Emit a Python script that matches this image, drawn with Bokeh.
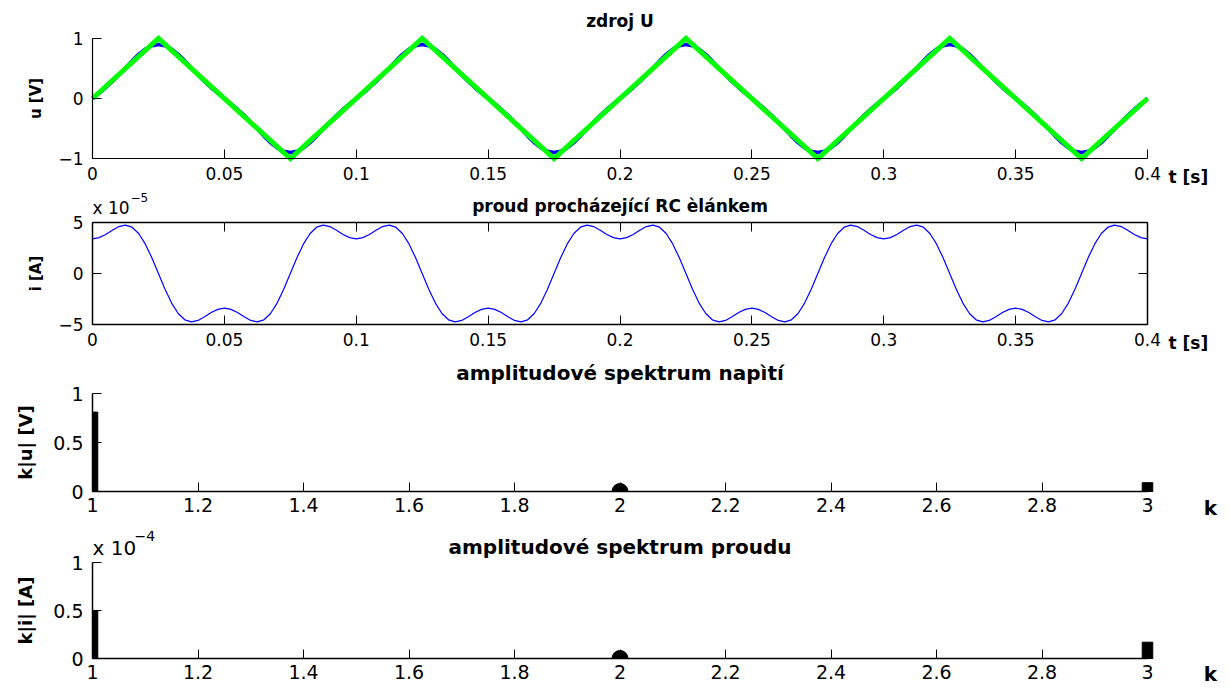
import math
from bokeh.plotting import figure
from bokeh.layouts import column
from bokeh.models import Range1d, FixedTicker, LinearAxis, Label
from bokeh.embed import file_html
from bokeh.resources import INLINE

# ---------------- data ----------------
t_samples = [round(0.0025 * n, 4) for n in range(161)]  # sampling grid 0 .. 0.4 s

# Fourier approximation of the source voltage (blue)
u_approx = [
    0, 0.086, 0.178, 0.279, 0.391, 0.509, 0.628, 0.736, 0.823, 0.880, 0.900, 0.880, 0.823, 0.736, 0.628, 0.509, 0.391, 0.279, 0.178, 0.086,
    0, -0.086, -0.178, -0.279, -0.391, -0.509, -0.628, -0.736, -0.823, -0.880, -0.900, -0.880, -0.823, -0.736, -0.628, -0.509, -0.391, -0.279, -0.178, -0.086,
    0, 0.086, 0.178, 0.279, 0.391, 0.509, 0.628, 0.736, 0.823, 0.880, 0.900, 0.880, 0.823, 0.736, 0.628, 0.509, 0.391, 0.279, 0.178, 0.086,
    0, -0.086, -0.178, -0.279, -0.391, -0.509, -0.628, -0.736, -0.823, -0.880, -0.900, -0.880, -0.823, -0.736, -0.628, -0.509, -0.391, -0.279, -0.178, -0.086,
    0, 0.086, 0.178, 0.279, 0.391, 0.509, 0.628, 0.736, 0.823, 0.880, 0.900, 0.880, 0.823, 0.736, 0.628, 0.509, 0.391, 0.279, 0.178, 0.086,
    0, -0.086, -0.178, -0.279, -0.391, -0.509, -0.628, -0.736, -0.823, -0.880, -0.900, -0.880, -0.823, -0.736, -0.628, -0.509, -0.391, -0.279, -0.178, -0.086,
    0, 0.086, 0.178, 0.279, 0.391, 0.509, 0.628, 0.736, 0.823, 0.880, 0.900, 0.880, 0.823, 0.736, 0.628, 0.509, 0.391, 0.279, 0.178, 0.086,
    0, -0.086, -0.178, -0.279, -0.391, -0.509, -0.628, -0.736, -0.823, -0.880, -0.900, -0.880, -0.823, -0.736, -0.628, -0.509, -0.391, -0.279, -0.178, -0.086,
    0,
]

# ideal triangle source (green)
t_triangle = [0, 0.025, 0.075, 0.125, 0.175, 0.225, 0.275, 0.325, 0.375, 0.4]
u_triangle = [0, 1, -1, 1, -1, 1, -1, 1, -1, 0]

# current through the RC network, in units of 1e-5 A
i_current_e5 = [
    3.40, 3.52, 3.83, 4.24, 4.60, 4.74, 4.54, 3.92, 2.90, 1.54, 0, -1.54, -2.90, -3.92, -4.54, -4.74, -4.60, -4.24, -3.83, -3.52,
    -3.40, -3.52, -3.83, -4.24, -4.60, -4.74, -4.54, -3.92, -2.90, -1.54, 0, 1.54, 2.90, 3.92, 4.54, 4.74, 4.60, 4.24, 3.83, 3.52,
    3.40, 3.52, 3.83, 4.24, 4.60, 4.74, 4.54, 3.92, 2.90, 1.54, 0, -1.54, -2.90, -3.92, -4.54, -4.74, -4.60, -4.24, -3.83, -3.52,
    -3.40, -3.52, -3.83, -4.24, -4.60, -4.74, -4.54, -3.92, -2.90, -1.54, 0, 1.54, 2.90, 3.92, 4.54, 4.74, 4.60, 4.24, 3.83, 3.52,
    3.40, 3.52, 3.83, 4.24, 4.60, 4.74, 4.54, 3.92, 2.90, 1.54, 0, -1.54, -2.90, -3.92, -4.54, -4.74, -4.60, -4.24, -3.83, -3.52,
    -3.40, -3.52, -3.83, -4.24, -4.60, -4.74, -4.54, -3.92, -2.90, -1.54, 0, 1.54, 2.90, 3.92, 4.54, 4.74, 4.60, 4.24, 3.83, 3.52,
    3.40, 3.52, 3.83, 4.24, 4.60, 4.74, 4.54, 3.92, 2.90, 1.54, 0, -1.54, -2.90, -3.92, -4.54, -4.74, -4.60, -4.24, -3.83, -3.52,
    -3.40, -3.52, -3.83, -4.24, -4.60, -4.74, -4.54, -3.92, -2.90, -1.54, 0, 1.54, 2.90, 3.92, 4.54, 4.74, 4.60, 4.24, 3.83, 3.52,
    3.40,
]

k_harm = [1, 2, 3]
u_spectrum = [0.81, 0.0, 0.09]          # V
i_spectrum = [5.0e-5, 0.0, 1.7e-5]      # A
i_spec_scale = 1e-4

t_ticks = [0, 0.05, 0.1, 0.15, 0.2, 0.25, 0.3, 0.35, 0.4]
t_tick_labels = ["0", "0.05", "0.1", "0.15", "0.2", "0.25", "0.3", "0.35", "0.4"]
k_ticks = [1, 1.2, 1.4, 1.6, 1.8, 2, 2.2, 2.4, 2.6, 2.8, 3]
k_tick_labels = ["1", "1.2", "1.4", "1.6", "1.8", "2", "2.2", "2.4", "2.6", "2.8", "3"]
u_ticks = [-1, 0, 1]
u_tick_labels = ["\u22121", "0", "1"]
i_ticks = [-5, 0, 5]
i_tick_labels = ["\u22125", "0", "5"]
spec_ticks = [0, 0.5, 1]
spec_tick_labels = ["0", "0.5", "1"]

titles = ["zdroj U", "proud procházející RC èlánkem",
          "amplitudové spektrum napìtí", "amplitudové spektrum proudu"]
ylabels = ["u [V]", "i [A]", "k|u| [V]", "k|i| [A]"]
xlabel_t = "t [s]"
xlabel_k = "k"

# ---------------- layout (pixels) ----------------
FONT = "DejaVu Sans"
W = 1221
AX_LEFT = 92       # pixel of the first x tick (y axis position)
AX_RIGHT = 1147    # pixel of the last x tick
BAR_HALF = 0.01    # half width of spectrum bars (k units)


def x_range_px(v0, v1):
    scale = (v1 - v0) / (AX_RIGHT - AX_LEFT)
    return Range1d(v0 - AX_LEFT * scale, v0 + (W - AX_LEFT) * scale)


def y_range_px(vlow, vhigh, px_high, px_low, height):
    # px_* measured from the top of the figure
    scale = (vhigh - vlow) / (px_low - px_high)
    return Range1d(vlow - (height - px_low) * scale, vhigh + px_high * scale)


def style_axis(ax, ticks, labels, fs, lw, standoff=8):
    ax.ticker = FixedTicker(ticks=ticks)
    ax.major_label_overrides = dict(zip(ticks, labels))
    ax.major_tick_in = 9
    ax.major_tick_out = 0
    ax.minor_tick_in = 0
    ax.minor_tick_out = 0
    ax.axis_line_color = "black"
    ax.axis_line_width = lw
    ax.major_tick_line_color = "black"
    ax.major_tick_line_width = 1
    ax.major_label_text_font = FONT
    ax.major_label_text_font_size = fs
    ax.major_label_text_color = "black"
    ax.major_label_standoff = standoff


def make_fig(h, xr, yr):
    p = figure(width=W, height=h, x_range=xr, y_range=yr, title=None,
               output_backend="svg", toolbar_location=None,
               min_border_left=0, min_border_right=0,
               min_border_top=0, min_border_bottom=0)
    p.xgrid.visible = False
    p.ygrid.visible = False
    p.outline_line_color = None
    p.background_fill_color = "white"
    p.border_fill_color = "white"
    return p


def place_axes(p, xt, xl, yt, yl, fs, lw, xstand=8):
    style_axis(p.xaxis[0], xt, xl, fs, lw, standoff=xstand)
    p.xaxis[0].fixed_location = yt[0]
    p.xaxis[0].bounds = (xt[0], xt[-1])
    style_axis(p.yaxis[0], yt, yl, fs, lw, standoff=9)
    p.yaxis[0].fixed_location = xt[0]
    p.yaxis[0].bounds = (yt[0], yt[-1])


def ylabel(ax, text, fs, standoff):
    ax.axis_label = text
    ax.axis_label_text_font = FONT
    ax.axis_label_text_font_style = "bold"
    ax.axis_label_text_font_size = fs
    ax.axis_label_text_color = "black"
    ax.axis_label_standoff = standoff


def text(p, x, y, s, fs, dx=0, dy=0, bold=False, align="left"):
    p.add_layout(Label(x=x, y=y, text=s, x_offset=dx, y_offset=dy,
                       text_align=align, text_baseline="middle", text_font=FONT,
                       text_font_style="bold" if bold else "normal",
                       text_font_size=fs, text_color="black"))


def spectrum(p, values):
    left = [max(k - BAR_HALF, k_ticks[0]) for k in k_harm]
    right = [k + BAR_HALF for k in k_harm]
    p.quad(left=left, right=right, bottom=[0] * len(k_harm), top=values,
           fill_color="black", line_color="black")
    zk = [k for k, v in zip(k_harm, values) if v == 0]
    p.wedge(x=zk, y=[0] * len(zk), radius=8, radius_units="screen",
            start_angle=0, end_angle=math.pi, fill_color="black", line_color="black")


# ---------------- 1: source voltage ----------------
H1 = 188
p1 = make_fig(H1, x_range_px(t_ticks[0], t_ticks[-1]),
              y_range_px(u_ticks[0], u_ticks[-1], 38, 158, H1))
p1.line(t_samples, u_approx, line_color="#0000FF", line_width=3.5)
p1.line(t_triangle, u_triangle, line_color="#00FF00", line_width=5, line_join="miter")
place_axes(p1, t_ticks, t_tick_labels, u_ticks, u_tick_labels, "17px", 1.2)
ylabel(p1.yaxis[0], ylabels[0], "15px", 10)
t_mid = (t_ticks[0] + t_ticks[-1]) / 2
text(p1, t_mid, u_ticks[-1], titles[0], "17px", dy=18, bold=True, align="center")
text(p1, t_ticks[-1], u_ticks[0], xlabel_t, "17px", dx=21, dy=-18, bold=True)

# ---------------- 2: current ----------------
H2 = 164
p2 = make_fig(H2, x_range_px(t_ticks[0], t_ticks[-1]),
              y_range_px(i_ticks[0], i_ticks[-1], 34, 136, H2))
p2.line(t_samples, i_current_e5, line_color="#0000FF", line_width=1.2)
place_axes(p2, t_ticks, t_tick_labels, i_ticks, i_tick_labels, "17px", 1.5)
ylabel(p2.yaxis[0], ylabels[1], "15px", 10)
ax_top = LinearAxis(fixed_location=i_ticks[-1], bounds=(t_ticks[0], t_ticks[-1]))
style_axis(ax_top, t_ticks, [""] * len(t_ticks), "17px", 1.5, standoff=0)
p2.add_layout(ax_top, "above")
ax_right = LinearAxis(fixed_location=t_ticks[-1], bounds=(i_ticks[0], i_ticks[-1]))
style_axis(ax_right, i_ticks, [""] * len(i_ticks), "17px", 1.5, standoff=0)
p2.add_layout(ax_right, "right")
text(p2, t_mid, i_ticks[-1], titles[1], "17px", dy=17, bold=True, align="center")
text(p2, t_ticks[-1], i_ticks[0], xlabel_t, "17px", dx=21, dy=-18, bold=True)
text(p2, t_ticks[0], i_ticks[-1], "x 10", "17px", dx=0, dy=15)
text(p2, t_ticks[0], i_ticks[-1], "\u22125", "12px", dx=38, dy=25)

# ---------------- 3: voltage spectrum ----------------
H3 = 170
p3 = make_fig(H3, x_range_px(k_ticks[0], k_ticks[-1]),
              y_range_px(spec_ticks[0], spec_ticks[-1], 41, 139, H3))
spectrum(p3, u_spectrum)
place_axes(p3, k_ticks, k_tick_labels, spec_ticks, spec_tick_labels, "19px", 1.5, xstand=6)
ylabel(p3.yaxis[0], ylabels[2], "18px", 14)
k_mid = (k_ticks[0] + k_ticks[-1]) / 2
text(p3, k_mid, spec_ticks[-1], titles[2], "20px", dy=21, bold=True, align="center")
text(p3, k_ticks[-1], spec_ticks[0], xlabel_k, "20px", dx=63, dy=-16, bold=True, align="center")

# ---------------- 4: current spectrum ----------------
H4 = 164
p4 = make_fig(H4, x_range_px(k_ticks[0], k_ticks[-1]),
              y_range_px(spec_ticks[0], spec_ticks[-1], 40, 136, H4))
spectrum(p4, [v / i_spec_scale for v in i_spectrum])
place_axes(p4, k_ticks, k_tick_labels, spec_ticks, spec_tick_labels, "19px", 1.5, xstand=6)
ylabel(p4.yaxis[0], ylabels[3], "18px", 14)
text(p4, k_mid, spec_ticks[-1], titles[3], "20px", dy=16, bold=True, align="center")
text(p4, k_ticks[-1], spec_ticks[0], xlabel_k, "20px", dx=63, dy=-15, bold=True, align="center")
text(p4, k_ticks[0], spec_ticks[-1], "x 10", "20px", dx=0, dy=15)
text(p4, k_ticks[0], spec_ticks[-1], "\u22124", "14px", dx=42, dy=27)

layout = column(p1, p2, p3, p4, spacing=0)
open("out.html", "w").write(file_html(layout, INLINE))
